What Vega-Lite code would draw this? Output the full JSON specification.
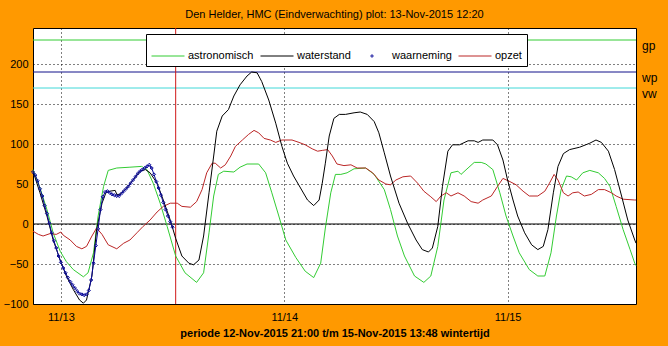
{
  "$schema": "https://vega.github.io/schema/vega-lite/v6.json",
  "width": 603,
  "height": 276,
  "autosize": "none",
  "padding": {"left": 33, "top": 28, "right": 32, "bottom": 42},
  "background": "#FF9900",
  "title": {"text": "Den Helder, HMC (Eindverwachting) plot: 13-Nov-2015 12:20", "font": "Liberation Sans", "fontSize": 11, "fontWeight": "normal", "color": "black", "offset": 8, "anchor": "middle"},
  "config": {
    "font": "Liberation Sans",
    "view": {"fill": "white", "stroke": "black", "strokeWidth": 1},
    "axis": {"domain": false, "ticks": false, "grid": true, "gridColor": "black", "gridDash": [1, 3], "gridOpacity": 1, "gridWidth": 1, "labelColor": "black", "labelFont": "Liberation Sans", "labelFontSize": 11, "titleColor": "black"}
  },
  "datasets": {
    "astro": [
      {"time": "2015-11-12T21:00", "value": 68}, {"time": "2015-11-12T21:45", "value": 45}, {"time": "2015-11-12T22:30", "value": 18}, {"time": "2015-11-12T23:10", "value": -11}, {"time": "2015-11-12T23:55", "value": -34},
      {"time": "2015-11-13T00:35", "value": -47}, {"time": "2015-11-13T01:20", "value": -57}, {"time": "2015-11-13T02:25", "value": -66}, {"time": "2015-11-13T02:55", "value": -61}, {"time": "2015-11-13T03:30", "value": -36},
      {"time": "2015-11-13T04:00", "value": 10}, {"time": "2015-11-13T04:35", "value": 47}, {"time": "2015-11-13T05:05", "value": 67}, {"time": "2015-11-13T06:00", "value": 70}, {"time": "2015-11-13T07:25", "value": 71},
      {"time": "2015-11-13T08:40", "value": 72}, {"time": "2015-11-13T09:15", "value": 68}, {"time": "2015-11-13T09:55", "value": 51}, {"time": "2015-11-13T10:40", "value": 26}, {"time": "2015-11-13T11:25", "value": -3},
      {"time": "2015-11-13T12:20", "value": -40}, {"time": "2015-11-13T13:20", "value": -61}, {"time": "2015-11-13T14:35", "value": -73}, {"time": "2015-11-13T15:20", "value": -61}, {"time": "2015-11-13T15:55", "value": -11},
      {"time": "2015-11-13T16:25", "value": 35}, {"time": "2015-11-13T16:55", "value": 62}, {"time": "2015-11-13T17:30", "value": 66}, {"time": "2015-11-13T18:35", "value": 65}, {"time": "2015-11-13T19:15", "value": 71},
      {"time": "2015-11-13T20:00", "value": 75}, {"time": "2015-11-13T21:15", "value": 75}, {"time": "2015-11-13T22:00", "value": 64}, {"time": "2015-11-13T22:40", "value": 39}, {"time": "2015-11-13T23:25", "value": 10},
      {"time": "2015-11-14T00:10", "value": -20}, {"time": "2015-11-14T01:15", "value": -42}, {"time": "2015-11-14T02:15", "value": -59}, {"time": "2015-11-14T03:10", "value": -67}, {"time": "2015-11-14T03:55", "value": -49},
      {"time": "2015-11-14T04:25", "value": -5}, {"time": "2015-11-14T05:00", "value": 39}, {"time": "2015-11-14T05:30", "value": 62}, {"time": "2015-11-14T06:05", "value": 62}, {"time": "2015-11-14T06:45", "value": 64},
      {"time": "2015-11-14T07:30", "value": 69}, {"time": "2015-11-14T08:45", "value": 70}, {"time": "2015-11-14T09:40", "value": 62}, {"time": "2015-11-14T10:45", "value": 43}, {"time": "2015-11-14T11:25", "value": 18},
      {"time": "2015-11-14T12:10", "value": -15}, {"time": "2015-11-14T12:55", "value": -40}, {"time": "2015-11-14T14:00", "value": -65}, {"time": "2015-11-14T15:00", "value": -73}, {"time": "2015-11-14T15:45", "value": -65},
      {"time": "2015-11-14T16:30", "value": -28}, {"time": "2015-11-14T17:10", "value": 30}, {"time": "2015-11-14T17:55", "value": 64}, {"time": "2015-11-14T18:40", "value": 66}, {"time": "2015-11-14T19:00", "value": 62},
      {"time": "2015-11-14T19:45", "value": 70}, {"time": "2015-11-14T20:25", "value": 77}, {"time": "2015-11-14T21:10", "value": 77}, {"time": "2015-11-14T21:40", "value": 75}, {"time": "2015-11-14T22:25", "value": 68},
      {"time": "2015-11-14T23:10", "value": 39}, {"time": "2015-11-14T23:50", "value": 10}, {"time": "2015-11-15T00:35", "value": -15}, {"time": "2015-11-15T01:15", "value": -36}, {"time": "2015-11-15T02:20", "value": -57},
      {"time": "2015-11-15T03:15", "value": -65}, {"time": "2015-11-15T04:00", "value": -65}, {"time": "2015-11-15T04:40", "value": -36}, {"time": "2015-11-15T05:15", "value": 10}, {"time": "2015-11-15T05:45", "value": 43},
      {"time": "2015-11-15T06:20", "value": 60}, {"time": "2015-11-15T06:50", "value": 59}, {"time": "2015-11-15T07:25", "value": 55}, {"time": "2015-11-15T08:05", "value": 64}, {"time": "2015-11-15T08:50", "value": 67},
      {"time": "2015-11-15T09:45", "value": 64}, {"time": "2015-11-15T10:25", "value": 57}, {"time": "2015-11-15T11:00", "value": 47}, {"time": "2015-11-15T11:40", "value": 22}, {"time": "2015-11-15T12:25", "value": -7},
      {"time": "2015-11-15T13:10", "value": -32}, {"time": "2015-11-15T13:40", "value": -49}, {"time": "2015-11-15T13:48", "value": -52}
    ],
    "water": [
      {"time": "2015-11-12T21:00", "value": 66}, {"time": "2015-11-12T21:45", "value": 39}, {"time": "2015-11-12T22:30", "value": 10}, {"time": "2015-11-12T23:10", "value": -20}, {"time": "2015-11-12T23:55", "value": -45},
      {"time": "2015-11-13T00:35", "value": -65}, {"time": "2015-11-13T01:20", "value": -82}, {"time": "2015-11-13T02:00", "value": -95}, {"time": "2015-11-13T02:25", "value": -99}, {"time": "2015-11-13T02:45", "value": -95},
      {"time": "2015-11-13T03:20", "value": -65}, {"time": "2015-11-13T03:50", "value": -7}, {"time": "2015-11-13T04:25", "value": 26}, {"time": "2015-11-13T04:50", "value": 39}, {"time": "2015-11-13T05:15", "value": 41},
      {"time": "2015-11-13T05:50", "value": 42}, {"time": "2015-11-13T06:00", "value": 37}, {"time": "2015-11-13T06:20", "value": 37}, {"time": "2015-11-13T07:05", "value": 45}, {"time": "2015-11-13T07:45", "value": 55},
      {"time": "2015-11-13T08:30", "value": 66}, {"time": "2015-11-13T09:05", "value": 68}, {"time": "2015-11-13T09:35", "value": 64}, {"time": "2015-11-13T10:20", "value": 51}, {"time": "2015-11-13T11:00", "value": 30},
      {"time": "2015-11-13T11:45", "value": 5}, {"time": "2015-11-13T12:20", "value": -18}, {"time": "2015-11-13T13:00", "value": -40}, {"time": "2015-11-13T13:45", "value": -49}, {"time": "2015-11-13T14:15", "value": -51},
      {"time": "2015-11-13T14:50", "value": -45}, {"time": "2015-11-13T15:20", "value": -15}, {"time": "2015-11-13T15:55", "value": 39}, {"time": "2015-11-13T16:25", "value": 85}, {"time": "2015-11-13T16:45", "value": 116},
      {"time": "2015-11-13T17:20", "value": 135}, {"time": "2015-11-13T18:00", "value": 143}, {"time": "2015-11-13T18:35", "value": 160}, {"time": "2015-11-13T19:15", "value": 174}, {"time": "2015-11-13T20:00", "value": 185},
      {"time": "2015-11-13T20:30", "value": 190}, {"time": "2015-11-13T21:05", "value": 189}, {"time": "2015-11-13T21:35", "value": 178}, {"time": "2015-11-13T22:20", "value": 155}, {"time": "2015-11-13T23:05", "value": 126},
      {"time": "2015-11-13T23:45", "value": 97}, {"time": "2015-11-14T00:20", "value": 76}, {"time": "2015-11-14T01:00", "value": 60}, {"time": "2015-11-14T01:45", "value": 45}, {"time": "2015-11-14T02:30", "value": 30},
      {"time": "2015-11-14T03:10", "value": 23}, {"time": "2015-11-14T03:45", "value": 30}, {"time": "2015-11-14T04:05", "value": 51}, {"time": "2015-11-14T04:25", "value": 76}, {"time": "2015-11-14T04:50", "value": 110},
      {"time": "2015-11-14T05:20", "value": 132}, {"time": "2015-11-14T05:55", "value": 137}, {"time": "2015-11-14T06:35", "value": 137}, {"time": "2015-11-14T07:30", "value": 139}, {"time": "2015-11-14T08:10", "value": 140},
      {"time": "2015-11-14T08:55", "value": 137}, {"time": "2015-11-14T09:40", "value": 128}, {"time": "2015-11-14T10:10", "value": 114}, {"time": "2015-11-14T10:45", "value": 89}, {"time": "2015-11-14T11:25", "value": 60},
      {"time": "2015-11-14T12:20", "value": 26}, {"time": "2015-11-14T13:15", "value": 1}, {"time": "2015-11-14T14:10", "value": -20}, {"time": "2015-11-14T14:50", "value": -32}, {"time": "2015-11-14T15:30", "value": -35},
      {"time": "2015-11-14T15:55", "value": -30}, {"time": "2015-11-14T16:30", "value": -3}, {"time": "2015-11-14T17:00", "value": 47}, {"time": "2015-11-14T17:35", "value": 91}, {"time": "2015-11-14T18:05", "value": 99},
      {"time": "2015-11-14T18:50", "value": 99}, {"time": "2015-11-14T19:45", "value": 104}, {"time": "2015-11-14T20:25", "value": 104}, {"time": "2015-11-14T20:50", "value": 102}, {"time": "2015-11-14T21:20", "value": 105},
      {"time": "2015-11-14T22:25", "value": 105}, {"time": "2015-11-14T22:55", "value": 99}, {"time": "2015-11-14T23:30", "value": 80}, {"time": "2015-11-15T00:00", "value": 55}, {"time": "2015-11-15T00:35", "value": 30},
      {"time": "2015-11-15T01:05", "value": 10}, {"time": "2015-11-15T01:50", "value": -11}, {"time": "2015-11-15T02:35", "value": -26}, {"time": "2015-11-15T03:15", "value": -32}, {"time": "2015-11-15T03:50", "value": -28},
      {"time": "2015-11-15T04:20", "value": -7}, {"time": "2015-11-15T04:55", "value": 39}, {"time": "2015-11-15T05:25", "value": 72}, {"time": "2015-11-15T06:00", "value": 88}, {"time": "2015-11-15T06:40", "value": 93},
      {"time": "2015-11-15T07:45", "value": 96}, {"time": "2015-11-15T08:50", "value": 101}, {"time": "2015-11-15T09:30", "value": 105}, {"time": "2015-11-15T10:05", "value": 102}, {"time": "2015-11-15T10:50", "value": 91},
      {"time": "2015-11-15T11:30", "value": 68}, {"time": "2015-11-15T12:15", "value": 35}, {"time": "2015-11-15T12:55", "value": 5}, {"time": "2015-11-15T13:40", "value": -20}, {"time": "2015-11-15T13:48", "value": -24}
    ],
    "surge": [
      {"time": "2015-11-12T21:00", "value": -9}, {"time": "2015-11-12T21:35", "value": -13}, {"time": "2015-11-12T22:05", "value": -15}, {"time": "2015-11-12T22:50", "value": -12}, {"time": "2015-11-12T23:30", "value": -13},
      {"time": "2015-11-13T00:00", "value": -10}, {"time": "2015-11-13T00:15", "value": -14}, {"time": "2015-11-13T01:00", "value": -20}, {"time": "2015-11-13T01:40", "value": -28}, {"time": "2015-11-13T02:15", "value": -31},
      {"time": "2015-11-13T02:45", "value": -28}, {"time": "2015-11-13T03:20", "value": -15}, {"time": "2015-11-13T03:50", "value": -5}, {"time": "2015-11-13T04:25", "value": -13}, {"time": "2015-11-13T05:05", "value": -26},
      {"time": "2015-11-13T06:00", "value": -31}, {"time": "2015-11-13T06:45", "value": -24}, {"time": "2015-11-13T07:25", "value": -20}, {"time": "2015-11-13T08:10", "value": -11}, {"time": "2015-11-13T08:50", "value": -3},
      {"time": "2015-11-13T09:35", "value": 5}, {"time": "2015-11-13T10:20", "value": 15}, {"time": "2015-11-13T11:00", "value": 22}, {"time": "2015-11-13T11:45", "value": 26}, {"time": "2015-11-13T12:30", "value": 26},
      {"time": "2015-11-13T13:00", "value": 22}, {"time": "2015-11-13T13:55", "value": 21}, {"time": "2015-11-13T14:35", "value": 28}, {"time": "2015-11-13T15:10", "value": 43}, {"time": "2015-11-13T15:40", "value": 64},
      {"time": "2015-11-13T16:15", "value": 76}, {"time": "2015-11-13T16:35", "value": 76}, {"time": "2015-11-13T17:10", "value": 70}, {"time": "2015-11-13T17:40", "value": 74}, {"time": "2015-11-13T18:15", "value": 85},
      {"time": "2015-11-13T18:45", "value": 97}, {"time": "2015-11-13T19:30", "value": 105}, {"time": "2015-11-13T20:10", "value": 112}, {"time": "2015-11-13T20:45", "value": 117}, {"time": "2015-11-13T21:15", "value": 114},
      {"time": "2015-11-13T21:50", "value": 107}, {"time": "2015-11-13T22:30", "value": 105}, {"time": "2015-11-13T23:05", "value": 102}, {"time": "2015-11-13T23:45", "value": 105}, {"time": "2015-11-14T00:50", "value": 105},
      {"time": "2015-11-14T01:35", "value": 102}, {"time": "2015-11-14T02:15", "value": 99}, {"time": "2015-11-14T03:00", "value": 94}, {"time": "2015-11-14T03:35", "value": 91}, {"time": "2015-11-14T04:05", "value": 92},
      {"time": "2015-11-14T04:40", "value": 93}, {"time": "2015-11-14T05:10", "value": 85}, {"time": "2015-11-14T05:40", "value": 75}, {"time": "2015-11-14T06:25", "value": 73}, {"time": "2015-11-14T07:10", "value": 74},
      {"time": "2015-11-14T07:50", "value": 70}, {"time": "2015-11-14T08:45", "value": 70}, {"time": "2015-11-14T09:30", "value": 64}, {"time": "2015-11-14T10:10", "value": 55}, {"time": "2015-11-14T10:55", "value": 50},
      {"time": "2015-11-14T11:25", "value": 49}, {"time": "2015-11-14T12:00", "value": 55}, {"time": "2015-11-14T12:45", "value": 59}, {"time": "2015-11-14T13:35", "value": 60}, {"time": "2015-11-14T14:20", "value": 51},
      {"time": "2015-11-14T15:00", "value": 41}, {"time": "2015-11-14T15:45", "value": 34}, {"time": "2015-11-14T16:20", "value": 28}, {"time": "2015-11-14T16:50", "value": 35}, {"time": "2015-11-14T17:25", "value": 39},
      {"time": "2015-11-14T17:55", "value": 35}, {"time": "2015-11-14T18:40", "value": 39}, {"time": "2015-11-14T19:20", "value": 35}, {"time": "2015-11-14T20:05", "value": 28}, {"time": "2015-11-14T20:50", "value": 26},
      {"time": "2015-11-14T21:20", "value": 30}, {"time": "2015-11-14T22:15", "value": 35}, {"time": "2015-11-14T22:55", "value": 47}, {"time": "2015-11-14T23:30", "value": 57}, {"time": "2015-11-15T00:15", "value": 53},
      {"time": "2015-11-15T00:55", "value": 49}, {"time": "2015-11-15T01:40", "value": 41}, {"time": "2015-11-15T02:20", "value": 35}, {"time": "2015-11-15T03:15", "value": 35}, {"time": "2015-11-15T04:00", "value": 41},
      {"time": "2015-11-15T04:30", "value": 51}, {"time": "2015-11-15T05:00", "value": 62}, {"time": "2015-11-15T05:25", "value": 55}, {"time": "2015-11-15T06:00", "value": 39}, {"time": "2015-11-15T06:30", "value": 35},
      {"time": "2015-11-15T07:00", "value": 39}, {"time": "2015-11-15T07:35", "value": 40}, {"time": "2015-11-15T08:15", "value": 35}, {"time": "2015-11-15T09:00", "value": 37}, {"time": "2015-11-15T09:45", "value": 43},
      {"time": "2015-11-15T10:25", "value": 43}, {"time": "2015-11-15T11:10", "value": 39}, {"time": "2015-11-15T11:40", "value": 35}, {"time": "2015-11-15T12:25", "value": 31}, {"time": "2015-11-15T13:40", "value": 30},
      {"time": "2015-11-15T13:48", "value": 30}
    ],
    "obs": [
      {"time": "2015-11-12T21:00", "value": 65}, {"time": "2015-11-12T21:15", "value": 61}, {"time": "2015-11-12T21:30", "value": 54}, {"time": "2015-11-12T21:45", "value": 44}, {"time": "2015-11-12T22:00", "value": 35},
      {"time": "2015-11-12T22:15", "value": 23}, {"time": "2015-11-12T22:30", "value": 13}, {"time": "2015-11-12T22:45", "value": 1}, {"time": "2015-11-12T23:00", "value": -11}, {"time": "2015-11-12T23:15", "value": -21},
      {"time": "2015-11-12T23:30", "value": -30}, {"time": "2015-11-12T23:45", "value": -40}, {"time": "2015-11-13T00:00", "value": -48}, {"time": "2015-11-13T00:15", "value": -55}, {"time": "2015-11-13T00:30", "value": -61},
      {"time": "2015-11-13T00:45", "value": -67}, {"time": "2015-11-13T01:00", "value": -72}, {"time": "2015-11-13T01:15", "value": -76}, {"time": "2015-11-13T01:30", "value": -80}, {"time": "2015-11-13T01:45", "value": -84},
      {"time": "2015-11-13T02:00", "value": -87}, {"time": "2015-11-13T02:15", "value": -88}, {"time": "2015-11-13T02:30", "value": -89}, {"time": "2015-11-13T02:45", "value": -88}, {"time": "2015-11-13T03:00", "value": -83},
      {"time": "2015-11-13T03:15", "value": -70}, {"time": "2015-11-13T03:30", "value": -49}, {"time": "2015-11-13T03:45", "value": -27}, {"time": "2015-11-13T04:00", "value": -6}, {"time": "2015-11-13T04:15", "value": 18},
      {"time": "2015-11-13T04:30", "value": 34}, {"time": "2015-11-13T04:45", "value": 40}, {"time": "2015-11-13T05:00", "value": 41}, {"time": "2015-11-13T05:15", "value": 39}, {"time": "2015-11-13T05:30", "value": 37},
      {"time": "2015-11-13T05:45", "value": 36}, {"time": "2015-11-13T06:00", "value": 35}, {"time": "2015-11-13T06:15", "value": 35}, {"time": "2015-11-13T06:30", "value": 38}, {"time": "2015-11-13T06:45", "value": 41},
      {"time": "2015-11-13T07:00", "value": 44}, {"time": "2015-11-13T07:15", "value": 47}, {"time": "2015-11-13T07:30", "value": 51}, {"time": "2015-11-13T07:45", "value": 55}, {"time": "2015-11-13T08:00", "value": 59},
      {"time": "2015-11-13T08:15", "value": 63}, {"time": "2015-11-13T08:30", "value": 66}, {"time": "2015-11-13T08:45", "value": 68}, {"time": "2015-11-13T09:00", "value": 70}, {"time": "2015-11-13T09:15", "value": 72},
      {"time": "2015-11-13T09:30", "value": 74}, {"time": "2015-11-13T09:45", "value": 70}, {"time": "2015-11-13T10:00", "value": 62}, {"time": "2015-11-13T10:15", "value": 53}, {"time": "2015-11-13T10:30", "value": 45},
      {"time": "2015-11-13T10:45", "value": 36}, {"time": "2015-11-13T11:00", "value": 27}, {"time": "2015-11-13T11:15", "value": 18}, {"time": "2015-11-13T11:30", "value": 10}, {"time": "2015-11-13T11:45", "value": 3},
      {"time": "2015-11-13T12:00", "value": -4}
    ],
    "levels": [
      {"label": "gp", "value": 230}, {"label": "wp", "value": 190}, {"label": "vw", "value": 170}
    ],
    "plottime": [
      {"time": "2015-11-13T12:20"}
    ]
  },
  "layer": [
    {
      "data": {"name": "levels"},
      "transform": [{"filter": "datum.label === 'gp'"}],
      "mark": {"type": "rule", "color": "#33CC33", "strokeWidth": 1},
      "encoding": {"y": {"field": "value", "type": "quantitative"}}
    },
    {
      "data": {"name": "levels"},
      "transform": [{"filter": "datum.label === 'wp'"}],
      "mark": {"type": "rule", "color": "#10108A", "strokeWidth": 1},
      "encoding": {"y": {"field": "value", "type": "quantitative"}}
    },
    {
      "data": {"name": "levels"},
      "transform": [{"filter": "datum.label === 'vw'"}],
      "mark": {"type": "rule", "color": "#40D8D8", "strokeWidth": 1},
      "encoding": {"y": {"field": "value", "type": "quantitative"}}
    },
    {
      "data": {"name": "plottime"},
      "mark": {"type": "rule", "color": "black", "strokeWidth": 1},
      "encoding": {"y": {"datum": 0}}
    },
    {
      "data": {"name": "plottime"},
      "mark": {"type": "rule", "color": "#D01818", "strokeWidth": 1},
      "encoding": {"x": {"field": "time", "type": "temporal"}}
    },
    {
      "data": {"name": "astro"},
      "mark": {"type": "line", "strokeWidth": 1},
      "encoding": {
        "x": {"field": "time", "type": "temporal",
          "scale": {"domain": [{"year": 2015, "month": 11, "date": 12, "hours": 21}, {"year": 2015, "month": 11, "date": 15, "hours": 13, "minutes": 48}]},
          "axis": {"values": [{"year": 2015, "month": 11, "date": 13}, {"year": 2015, "month": 11, "date": 14}, {"year": 2015, "month": 11, "date": 15}], "format": "%m/%d", "labelPadding": 7, "labelFlush": false,
            "title": "periode 12-Nov-2015 21:00 t/m 15-Nov-2015 13:48 wintertijd", "titleFont": "Liberation Sans", "titleFontSize": 11, "titleFontWeight": "bold", "titlePadding": 5}},
        "y": {"field": "value", "type": "quantitative",
          "scale": {"domain": [-100, 245], "nice": false, "zero": false},
          "axis": {"values": [-100, -50, 0, 50, 100, 150, 200], "title": null, "labelPadding": 5}},
        "color": {"datum": "astronomisch", "type": "nominal",
          "scale": {"domain": ["astronomisch", "waterstand", "waarneming", "opzet"], "range": ["#33CC33", "black", "#0A0A9A", "#BB2626"]},
          "legend": {"orient": "none", "legendX": 113, "legendY": 6, "direction": "horizontal", "columns": 4, "title": null,
            "symbolType": "stroke", "symbolSize": 1089, "symbolStrokeWidth": 1, "labelFont": "Liberation Sans", "labelFontSize": 11, "labelColor": "black",
            "labelOffset": 3, "columnPadding": 4, "padding": 5, "strokeColor": "black", "fillColor": "white", "cornerRadius": 0, "labelLimit": 200,
            "encode": {"symbols": {"update": {"shape": {"signal": "datum.label === 'waarneming' ? 'circle' : 'stroke'"}, "size": {"signal": "datum.label === 'waarneming' ? 5 : 1089"}}}}}}
      }
    },
    {
      "data": {"name": "surge"},
      "mark": {"type": "line", "strokeWidth": 1},
      "encoding": {"x": {"field": "time", "type": "temporal"}, "y": {"field": "value", "type": "quantitative"}, "color": {"datum": "opzet", "type": "nominal"}}
    },
    {
      "data": {"name": "water"},
      "mark": {"type": "line", "strokeWidth": 1},
      "encoding": {"x": {"field": "time", "type": "temporal"}, "y": {"field": "value", "type": "quantitative"}, "color": {"datum": "waterstand", "type": "nominal"}}
    },
    {
      "data": {"name": "obs"},
      "mark": {"type": "line", "strokeWidth": 1},
      "encoding": {"x": {"field": "time", "type": "temporal"}, "y": {"field": "value", "type": "quantitative"}, "color": {"datum": "waarneming", "type": "nominal"}}
    },
    {
      "data": {"name": "obs"},
      "mark": {"type": "point", "shape": "diamond", "size": 10, "filled": false, "color": "#0A0A9A", "strokeWidth": 1, "opacity": 1},
      "encoding": {"x": {"field": "time", "type": "temporal"}, "y": {"field": "value", "type": "quantitative"}}
    },
    {
      "data": {"name": "levels"},
      "mark": {"type": "text", "align": "left", "baseline": "middle", "dx": 6, "dy": 6, "fontSize": 12, "font": "Liberation Sans", "color": "black"},
      "encoding": {
        "x": {"datum": {"year": 2015, "month": 11, "date": 15, "hours": 13, "minutes": 48}, "type": "temporal"},
        "y": {"field": "value", "type": "quantitative"},
        "text": {"field": "label"}
      }
    }
  ]
}
